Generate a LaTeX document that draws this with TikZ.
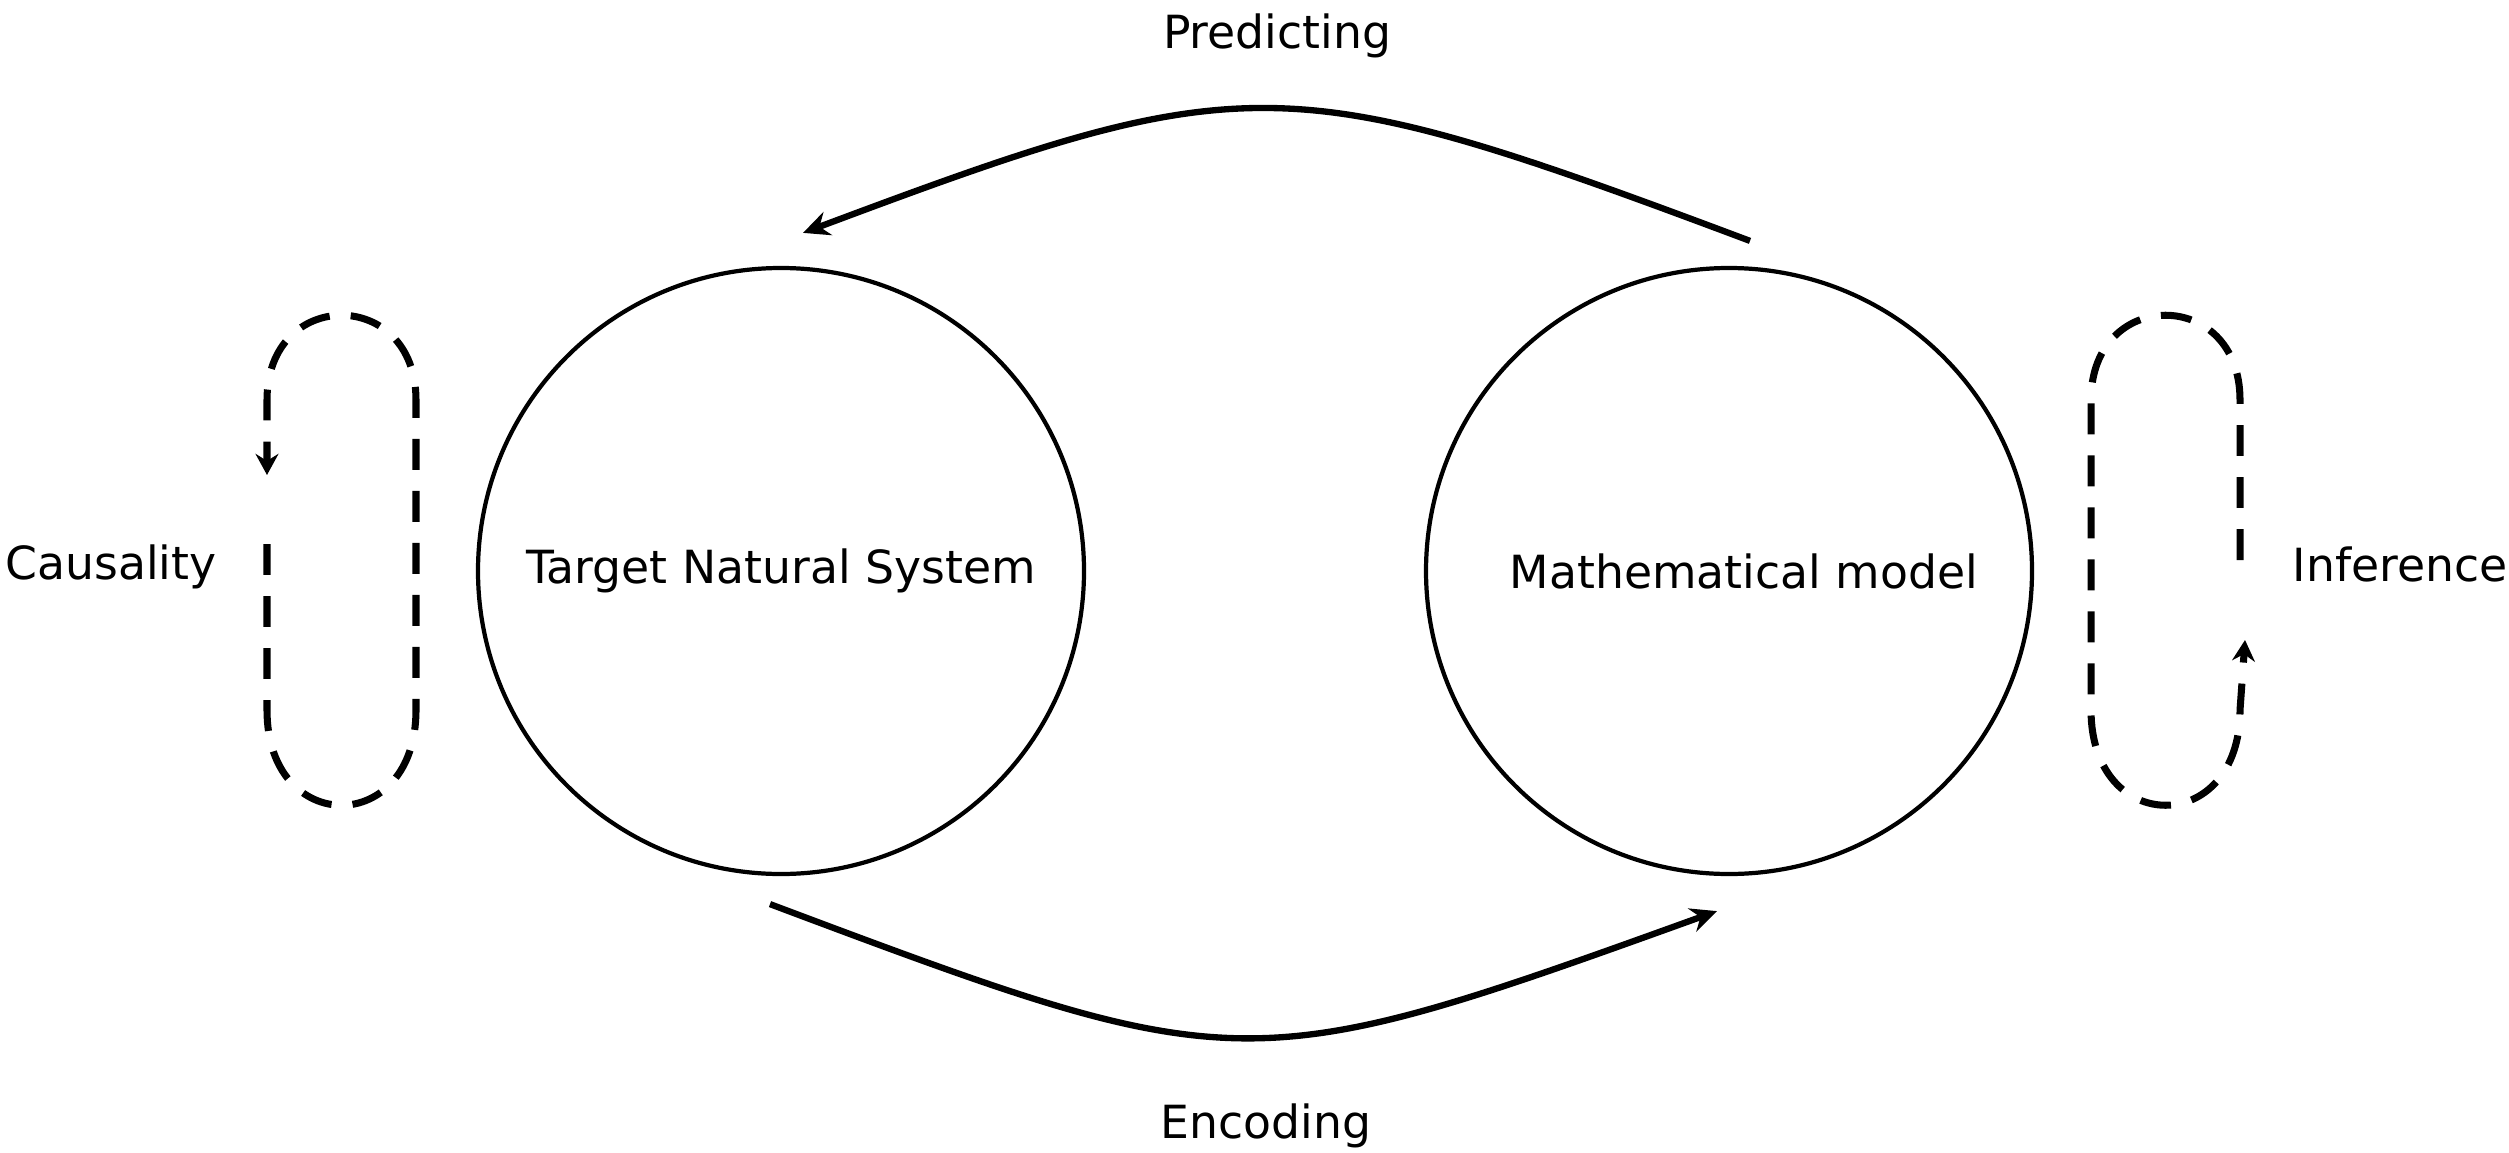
\documentclass[tikz,border=0pt]{standalone}
\usepackage{fontspec}
\setmainfont{DejaVu Sans}
\usetikzlibrary{arrows.meta}

\begin{document}
\begin{tikzpicture}[>={Stealth[length=7.5pt, width=7pt, inset=2.5pt]},
    every node/.style={font=\fontsize{13pt}{15pt}\selectfont},
    sys/.style={draw, circle, line width=1.2pt, minimum size=6.06cm, inner sep=0pt},
    flow/.style={->, line width=1.8pt},
    cycle/.style={line width=2pt, dash pattern=on 8.8pt off 6pt,
      -{Stealth[length=6pt, width=6.5pt, inset=2pt]}},
    lbl/.style={anchor=base}]
      \useasboundingbox (0,0) rectangle (25.09,-11.52);

      % the two systems
      \node[sys] (target) at (7.81,-5.71) {Target Natural System};
      \node[sys, label={[xshift=0.15cm]center:Mathematical model}] (model) at (17.29,-5.71) {};

      % predicting / encoding
      \draw[flow] ([shift={(0.21,0.25)}]model.north)
        .. controls (12.84,-0.66) and (12.48,-0.66) .. ([shift={(0.22,0.33)}]target.north);
      \draw[flow] ([shift={(-0.11,-0.28)}]target.south)
        .. controls (12.41,-10.81) and (12.46,-10.81) .. ([shift={(-0.12,-0.35)}]model.south);

      % causality loop
      \draw[cycle] (2.67,-5.44) -- (2.67,-7.10)
        .. controls (2.67,-8.37) and (4.16,-8.37) .. (4.16,-7.10) -- (4.16,-4.00)
        .. controls (4.16,-2.87) and (2.67,-2.87) .. (2.67,-4.00) -- (2.67,-4.75);

      % inference loop
      \draw[cycle] (22.40,-5.60) -- (22.40,-4.00)
        .. controls (22.40,-2.87) and (20.91,-2.87) .. (20.91,-4.00) -- (20.91,-7.10)
        .. controls (20.91,-8.37) and (22.40,-8.37) .. (22.40,-7.10) -- (22.45,-6.40);

      % labels
      \node[lbl] (predict) at (12.77,-0.49) {Predicting};
      \node[lbl] (encode) at (12.66,-11.38) {Encoding};
      \node[lbl] (causal) at (1.11,-5.79) {Causality};
      \node[lbl] (infer) at (24.00,-5.81) {Inference};
    \end{tikzpicture}
\end{document}
